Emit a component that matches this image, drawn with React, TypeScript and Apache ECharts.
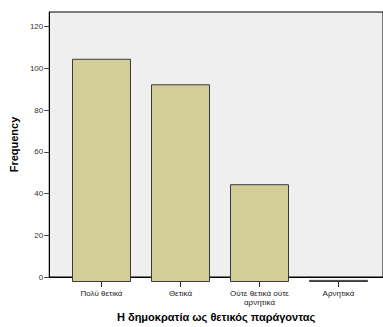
import React, { useEffect, useRef } from "react";
import * as echarts from "echarts";

const categories = ["Πολύ θετικά", "Θετικά", "Ούτε θετικά ούτε\nαρνητικά", "Αρνητικά"];
const frequencies = [105, 93, 46, 1];
const yTicks = { min: 0, max: 127, interval: 20 };
const xTitle = "Η δημοκρατία ως θετικός παράγοντας";
const yTitle = "Frequency";

export default function App() {
  const ref = useRef<HTMLDivElement>(null);
  useEffect(() => {
    if (!ref.current) return;
    const chart = echarts.init(ref.current, null, { renderer: "svg" });
    const font = "Liberation Sans, Arial, sans-serif";
    chart.setOption({
      animation: false,
      textStyle: { fontFamily: font },
      grid: [
        { left: 44, right: -5, top: 12, bottom: 45, show: true, backgroundColor: "#efefef", borderColor: "#000", borderWidth: 1 },
        { left: 62, right: 5, top: 12, bottom: 45 },
      ],
      xAxis: [
        {
          gridIndex: 0, type: "value", min: 0, max: 1,
          axisLine: { show: true, lineStyle: { color: "#000", width: 1 } },
          axisTick: { show: false }, axisLabel: { show: false }, splitLine: { show: false },
          name: xTitle, nameLocation: "middle", nameGap: 34,
          nameTextStyle: { fontFamily: font, fontSize: 11, fontWeight: "bold", color: "#000" },
        },
        {
          gridIndex: 1, type: "category", data: categories,
          axisLine: { show: false },
          axisTick: { show: true, alignWithLabel: true, length: 5, lineStyle: { color: "#222" } },
          axisLabel: { fontFamily: font, fontSize: 8, color: "#222", margin: 7, lineHeight: 9, interval: 0 },
        },
      ],
      yAxis: [
        {
          gridIndex: 0, type: "value", min: yTicks.min, max: yTicks.max, interval: yTicks.interval,
          axisLine: { show: true, lineStyle: { color: "#000" } },
          axisTick: { show: true, length: 5, lineStyle: { color: "#444" } },
          axisLabel: { fontFamily: font, fontSize: 8, color: "#333", margin: 6, showMaxLabel: false },
          splitLine: { show: false },
          name: yTitle, nameLocation: "middle", nameGap: 16, nameRotate: 90,
          nameTextStyle: { fontFamily: font, fontSize: 11, fontWeight: "bold", color: "#000" },
        },
        {
          gridIndex: 1, type: "value", min: yTicks.min, max: yTicks.max, show: false,
        },
      ],
      series: [
        {
          type: "bar", xAxisIndex: 1, yAxisIndex: 1, data: frequencies, barWidth: 59,
          itemStyle: { color: "#d3ce98", borderColor: "#3a3a3a", borderWidth: 1 },
        },
      ],
    });
    return () => chart.dispose();
  }, []);
  return <div ref={ref} style={{ width: 383, height: 327, position: "absolute", left: 0, top: 0, background: "#fff" }} />;
}
